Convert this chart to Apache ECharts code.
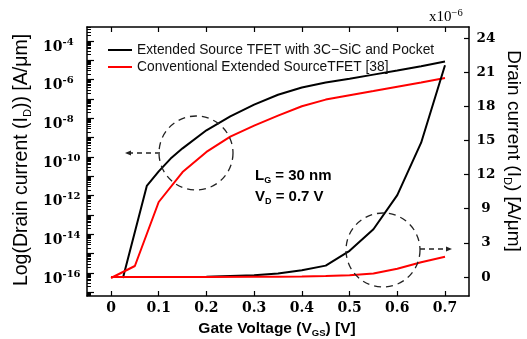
<!DOCTYPE html>
<html><head><meta charset="utf-8">
<script src="https://cdn.jsdelivr.net/npm/echarts@6/dist/echarts.min.js"></script>
<style>html,body{margin:0;padding:0;background:#fff}#c{width:527px;height:339px}</style>
</head><body><div id="c"></div>
<script>
// ---- data ----
const seriesNames = ['Extended Source TFET with 3C\u2212SiC and Pocket', 'Conventional Extended SourceTFET [38]'];
// log-scale curves, drain current in A/um
const vgsBlackLog = [0.025, 0.075, 0.1, 0.125, 0.15, 0.2, 0.25, 0.3, 0.35, 0.4, 0.45, 0.5, 0.55, 0.6, 0.65, 0.7];
const idBlackLog  = [5.5e-17, 3.2e-12, 1.8e-11, 8.3e-11, 2.8e-10, 2.4e-9, 1.26e-8, 5.1e-8, 1.66e-7, 3.9e-7, 7.1e-7, 1.12e-6, 1.82e-6, 2.95e-6, 5.0e-6, 8.7e-6];
const vgsRedLog   = [0, 0.05, 0.1, 0.15, 0.2, 0.25, 0.3, 0.35, 0.4, 0.45, 0.5, 0.55, 0.6, 0.65, 0.7];
const idRedLog    = [5.5e-17, 2.3e-16, 4.7e-13, 1.66e-11, 1.82e-10, 1.12e-9, 4.2e-9, 1.38e-8, 4.2e-8, 9.3e-8, 1.58e-7, 2.57e-7, 4.3e-7, 7.1e-7, 1.23e-6];
// linear-scale curves, in right-axis units (x1e-6 A/um, tick positions)
const vgsLin      = [0, 0.1, 0.2, 0.3, 0.35, 0.4, 0.45, 0.5, 0.55, 0.6, 0.65, 0.7];
const idBlackLin  = [0, 0, 0.02, 0.15, 0.3, 0.6, 1.0, 2.3, 4.2, 7.2, 11.8, 18.6];
const idRedLin    = [0, 0, 0, 0.02, 0.03, 0.05, 0.08, 0.15, 0.3, 0.72, 1.3, 1.78];
// ticks
const xTicks = [0, 0.1, 0.2, 0.3, 0.4, 0.5, 0.6, 0.7];
const leftLabelExps = [-16, -14, -12, -10, -8, -6, -4];
const rightTickPos = [0, 3, 6, 9, 12, 15, 18, 21];
const rightTickLabels = ['0', '3', '9', '12', '15', '18', '21', '24'];

// ---- build ----
const X_MIN = -0.0503, X_MAX = 0.7503;
const L_MIN = -17.19, L_MAX = -3.276;
const R_MIN = -1.669, R_MAX = 21.967;

const decadeTicks = [];
for (let n = -17; n <= -4; n++) decadeTicks.push(n);
const minorTicks = [];
for (let n = -18; n <= -4; n++) for (let k = 2; k <= 9; k++) {
  const v = n + Math.log10(k);
  if (v > L_MIN && v < L_MAX) minorTicks.push(v);
}
const zip = (xs, ys, f) => xs.map((x, i) => [x, f ? f(ys[i]) : ys[i]]);

const serifB = 'DejaVu Serif';
const sans = 'Liberation Sans';
const axisLine = { show: true, onZero: false, lineStyle: { color: '#000', width: 1.5 } };
const gridBox = { left: 87, right: 58, top: 27, bottom: 43, containLabel: false };

const chart = echarts.init(document.getElementById('c'), null, { renderer: 'canvas' });
chart.setOption({
  animation: false,
  backgroundColor: '#fff',
  grid: [Object.assign({}, gridBox), Object.assign({}, gridBox)],
  legend: {
    data: seriesNames, orient: 'vertical', left: 103, top: 37,
    icon: 'rect', itemWidth: 24, itemHeight: 2, itemGap: 1,
    textStyle: { fontFamily: sans, fontSize: 13.8, color: '#111', lineHeight: 16 },
    selectedMode: false
  },
  xAxis: [
    { type: 'value', gridIndex: 0, position: 'bottom', min: X_MIN, max: X_MAX,
      axisLine: axisLine,
      axisTick: { inside: true, length: 5, customValues: xTicks, lineStyle: { color: '#000', width: 1.2 } },
      axisLabel: { customValues: xTicks, margin: 5, fontFamily: serifB, fontWeight: 'bold', fontSize: 14, color: '#000',
                   formatter: v => String(v) },
      splitLine: { show: false } },
    { type: 'value', gridIndex: 0, position: 'top', min: X_MIN, max: X_MAX,
      axisLine: axisLine,
      axisTick: { inside: true, length: 5, customValues: xTicks, lineStyle: { color: '#000', width: 1.2 } },
      axisLabel: { show: false }, splitLine: { show: false } },
    { type: 'value', gridIndex: 1, position: 'bottom', min: X_MIN, max: X_MAX,
      axisLine: { show: false, onZero: false }, axisTick: { show: false }, axisLabel: { show: false }, splitLine: { show: false } }
  ],
  yAxis: [
    { type: 'value', gridIndex: 0, position: 'left', min: L_MIN, max: L_MAX,
      axisLine: axisLine,
      axisTick: { inside: true, length: 7, customValues: decadeTicks, lineStyle: { color: '#000', width: 1.2 } },
      axisLabel: { customValues: leftLabelExps, align: 'left', margin: 44, padding: [12, 0, 0, 0],
        formatter: v => '{b|10}{s|' + v + '}',
        rich: {
          b: { fontFamily: serifB, fontWeight: 'bold', fontSize: 14, color: '#000', lineHeight: 20 },
          s: { fontFamily: serifB, fontWeight: 'bold', fontSize: 10, color: '#000', lineHeight: 7, verticalAlign: 'top' }
        } },
      splitLine: { show: false } },
    { type: 'value', gridIndex: 0, position: 'right', min: R_MIN, max: R_MAX,
      axisLine: axisLine,
      axisTick: { inside: true, length: 5, customValues: rightTickPos, lineStyle: { color: '#000', width: 1.2 } },
      axisLabel: { customValues: rightTickPos, align: 'center', margin: 17,
        fontFamily: serifB, fontWeight: 'bold', fontSize: 13.5, color: '#000',
        formatter: v => { const i = rightTickPos.indexOf(v); return i >= 0 ? rightTickLabels[i] : ''; } },
      splitLine: { show: false } },
    { type: 'value', gridIndex: 1, position: 'left', min: L_MIN, max: L_MAX,
      axisLine: { show: false, onZero: false },
      axisTick: { inside: true, length: 4, customValues: minorTicks, lineStyle: { color: '#000', width: 1 } },
      axisLabel: { show: false }, splitLine: { show: false } }
  ],
  series: [
    { name: seriesNames[0], type: 'line', xAxisIndex: 0, yAxisIndex: 0, symbol: 'none',
      data: zip(vgsBlackLog, idBlackLog, Math.log10), color: '#000', lineStyle: { color: '#000', width: 2 } },
    { name: seriesNames[1], type: 'line', xAxisIndex: 0, yAxisIndex: 0, symbol: 'none',
      data: zip(vgsRedLog, idRedLog, Math.log10), color: '#ff0000', lineStyle: { color: '#ff0000', width: 2 } },
    { name: seriesNames[0], type: 'line', xAxisIndex: 0, yAxisIndex: 1, symbol: 'none',
      data: zip(vgsLin, idBlackLin), color: '#000', lineStyle: { color: '#000', width: 2 } },
    { name: seriesNames[1], type: 'line', xAxisIndex: 0, yAxisIndex: 1, symbol: 'none',
      data: zip(vgsLin, idRedLin), color: '#ff0000', lineStyle: { color: '#ff0000', width: 2 } }
  ],
  graphic: [
    // axis titles
    { type: 'text', x: 277, y: 329, z: 100, style: {
        text: '{t|Gate Voltage (V}{s|GS}{t|) [V]}', align: 'center', verticalAlign: 'middle',
        rich: { t: { fontFamily: sans, fontWeight: 'bold', fontSize: 15.5, color: '#000', lineHeight: 18 },
                s: { fontFamily: sans, fontWeight: 'bold', fontSize: 9.5, color: '#000', lineHeight: 8, verticalAlign: 'bottom' } } } },
    { type: 'text', x: 22, y: 160, rotation: Math.PI / 2, z: 100, style: {
        text: '{t|Log(Drain current (I}{s|D}{t|)) [A/\u03bcm]}', align: 'center', verticalAlign: 'middle',
        rich: { t: { fontFamily: sans, fontSize: 19.5, color: '#000', lineHeight: 22 },
                s: { fontFamily: sans, fontSize: 11, color: '#000', lineHeight: 9, verticalAlign: 'bottom' } } } },
    { type: 'text', x: 513, y: 151, rotation: -Math.PI / 2, z: 100, style: {
        text: '{t|Drain current (I}{s|D}{t|) [A/\u03bcm]}', align: 'center', verticalAlign: 'middle',
        rich: { t: { fontFamily: sans, fontSize: 19, color: '#000', lineHeight: 22 },
                s: { fontFamily: sans, fontSize: 11, color: '#000', lineHeight: 9, verticalAlign: 'bottom' } } } },
    { type: 'text', x: 429, y: 17, z: 100, style: {
        text: '{t|x10}{p|\u22126}', align: 'left', verticalAlign: 'middle',
        rich: { t: { fontFamily: 'Liberation Serif', fontSize: 15, color: '#000', lineHeight: 18 },
                p: { fontFamily: 'Liberation Serif', fontSize: 10.5, color: '#000', lineHeight: 8, verticalAlign: 'top' } } } },
    // annotation
    { type: 'text', x: 255, y: 176, z: 100, style: {
        text: '{t|L}{s|G}{t| = 30 nm}', align: 'left', verticalAlign: 'middle',
        rich: { t: { fontFamily: sans, fontWeight: 'bold', fontSize: 15, color: '#000', lineHeight: 18 },
                s: { fontFamily: sans, fontWeight: 'bold', fontSize: 9, color: '#000', lineHeight: 8, verticalAlign: 'bottom' } } } },
    { type: 'text', x: 255, y: 197, z: 100, style: {
        text: '{t|V}{s|D}{t| = 0.7 V}', align: 'left', verticalAlign: 'middle',
        rich: { t: { fontFamily: sans, fontWeight: 'bold', fontSize: 15, color: '#000', lineHeight: 18 },
                s: { fontFamily: sans, fontWeight: 'bold', fontSize: 9, color: '#000', lineHeight: 8, verticalAlign: 'bottom' } } } },
    // dashed circles + arrows
    { type: 'circle', z: 100, shape: { cx: 196, cy: 153, r: 37 },
      style: { fill: 'none', stroke: '#222', lineWidth: 1.3, lineDash: [7, 5] } },
    { type: 'line', z: 100, shape: { x1: 160, y1: 153, x2: 130, y2: 153 },
      style: { stroke: '#222', lineWidth: 1.3, lineDash: [5, 4] } },
    { type: 'polygon', z: 100, shape: { points: [[125, 153], [131, 150.5], [131, 155.5]] },
      style: { fill: '#222' } },
    { type: 'circle', z: 100, shape: { cx: 383, cy: 250, r: 37 },
      style: { fill: 'none', stroke: '#222', lineWidth: 1.3, lineDash: [7, 5] } },
    { type: 'line', z: 100, shape: { x1: 420, y1: 249, x2: 446, y2: 249 },
      style: { stroke: '#222', lineWidth: 1.3, lineDash: [5, 4] } },
    { type: 'polygon', z: 100, shape: { points: [[452, 249], [446, 246.5], [446, 251.5]] },
      style: { fill: '#222' } }
  ]
});
</script>
</body></html>
